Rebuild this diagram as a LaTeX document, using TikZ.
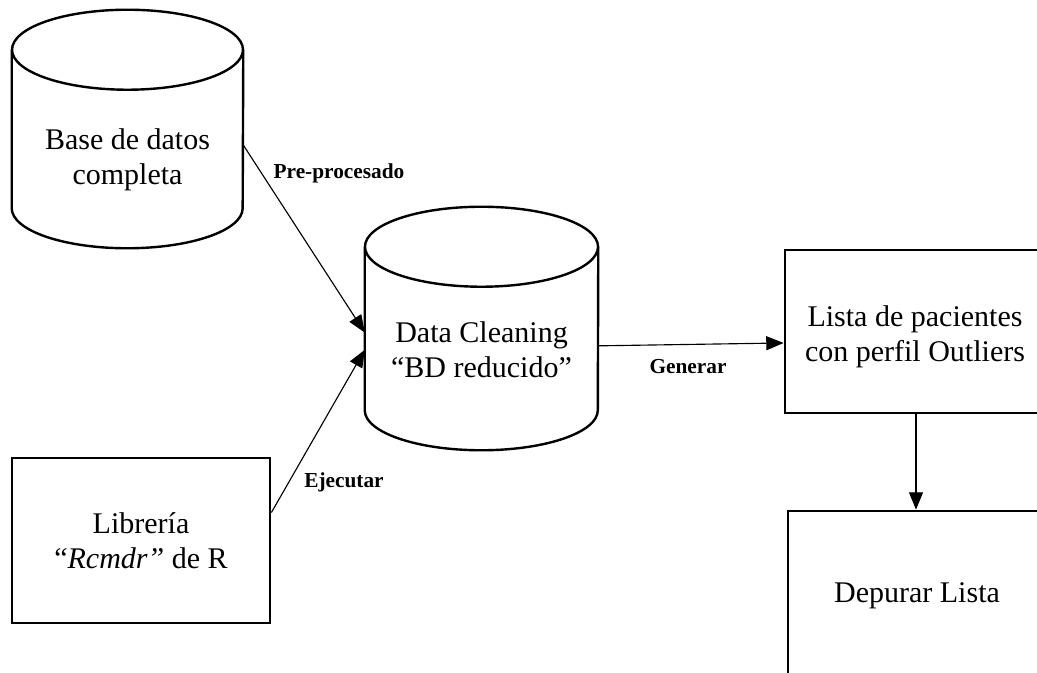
\documentclass[tikz,border=0pt]{standalone}
\usepackage{fontspec}
\setmainfont{Liberation Serif}
\usetikzlibrary{arrows.meta}

\tikzset{
  body/.style={font=\fontsize{22.5}{26}\selectfont, align=center, inner sep=0pt},
  boxnode/.style={body, draw, line width=2.1pt},
  cylbody/.style={inner sep=0pt},
  cylline/.style={line width=1.8pt},
  flow/.style={line width=0.85pt, -{Triangle[length=13pt, width=10.5pt]}},
  lbl/.style={font=\fontsize{16}{18}\selectfont\bfseries, inner sep=0pt}
}

\begin{document}
\begin{tikzpicture}[x=0.75pt, y=-0.75pt]
  \useasboundingbox (0,0) rectangle (1037,673);
  \clip (0,0) rectangle (1037,673);
  \fill[white] (0,0) rectangle (1037,673);

  % database cylinders: invisible bodies span the side walls, outline drawn from anchors
  \node[cylbody, minimum width=173.25pt, minimum height=118.5pt] (bd) at (127.5,129) {};
  \node[cylbody, minimum width=174.75pt, minimum height=122.25pt] (dc) at (481.5,328.5) {};

  \foreach \c/\rx in {bd/86.6pt, dc/87.4pt} {
    \draw[cylline] (\c.north) ellipse [x radius=\rx, y radius=30pt];
    \draw[cylline] (\c.north west) -- (\c.south west)
      arc[start angle=180, end angle=360, x radius=\rx, y radius=30pt]
      -- (\c.north east);
  }
  \node[body] (bdtext) at ([yshift=-23pt]bd.center) {Base de datos\\completa};
  \node[body] (dctext) at ([yshift=-16pt]dc.center) {Data Cleaning\\“BD reducido”};

  % rectangular steps
  \node[boxnode, minimum width=193.5pt, minimum height=123.75pt] (lib) at (141,540.5)
    {Librería\\“\textit{Rcmdr”} de R};
  \node[boxnode, minimum width=195pt, minimum height=122.25pt] (lista) at (915,331.5) {};
  \node[body] (listatext) at ([yshift=-4pt]lista.center) {Lista de pacientes\\con perfil Outliers};
  \node[boxnode, minimum width=193.5pt, minimum height=123pt] (dep) at (917,593) {};
  \node[body] (deptext) at ([yshift=-2pt]dep.center) {Depurar Lista};

  % connectors
  \draw[flow] ([yshift=-12pt]bd.east) -- ([yshift=-3pt]dc.west);
  \draw[flow] ([yshift=21pt]lib.east) -- ([yshift=-16pt]dc.west);
  \draw[flow] ([yshift=-13pt]dc.east) -- ([yshift=-8.6pt]lista.west);
  \draw[flow] ([xshift=0.75pt]lista.south) -- ([xshift=0.75pt]lista.south |- dep.north);

  % connector labels
  \node[lbl] (l1) at (339,173) {Pre-procesado};
  \node[lbl] (l2) at (344,482) {Ejecutar};
  \node[lbl] (l3) at (688,367) {Generar};
\end{tikzpicture}
\end{document}
